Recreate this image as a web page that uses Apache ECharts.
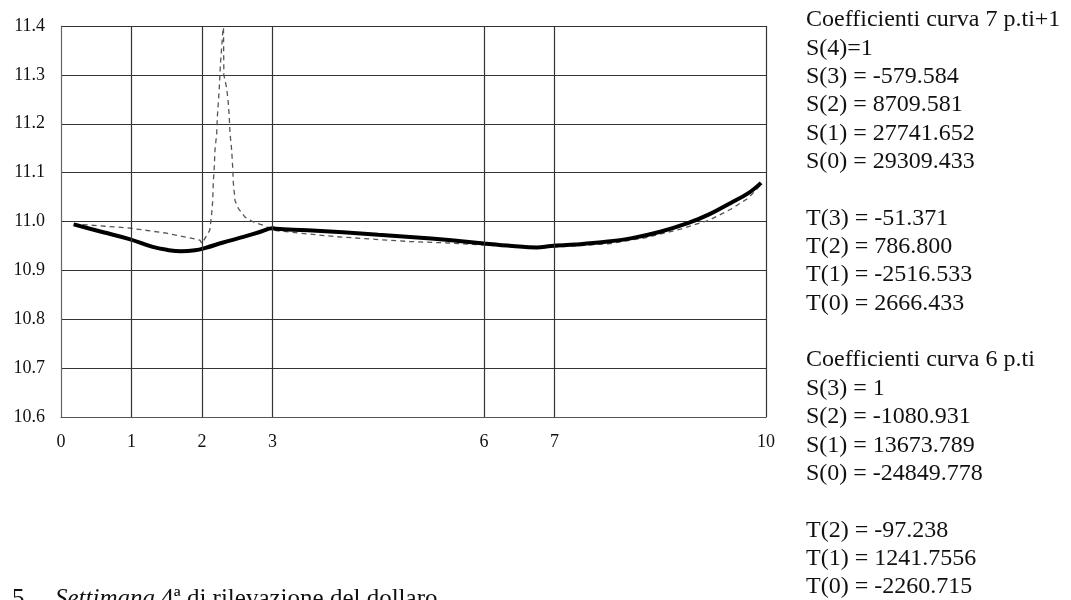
<!DOCTYPE html>
<html>
<head>
<meta charset="utf-8">
<script src="https://cdn.jsdelivr.net/npm/echarts@6/dist/echarts.min.js"></script>
<style>
  html, body { margin: 0; padding: 0; background: #fff; }
  #chart { width: 1071px; height: 600px; }
</style>
</head>
<body>
<div id="chart"></div>
<script>
// ---- data ----
const xLabelValues = [0, 1, 2, 3, 6, 7, 10];
const xGridValues = [1, 2, 3, 6, 7, 10];

const solidCurve = [
  [0.18, 10.994], [0.6, 10.978], [0.97, 10.964], [1.3, 10.948], [1.5, 10.942],
  [1.7, 10.939], [1.9, 10.941], [2.05, 10.946], [2.3, 10.957], [2.6, 10.969],
  [2.85, 10.980], [3.0, 10.986], [3.05, 10.985], [3.5, 10.982], [4.0, 10.978],
  [4.5, 10.973], [5.0, 10.968], [5.5, 10.962], [6.0, 10.955], [6.4, 10.950],
  [6.75, 10.947], [6.95, 10.950], [7.3, 10.953], [7.7, 10.958], [8.1, 10.966],
  [8.5, 10.979], [8.9, 10.997], [9.2, 11.015], [9.5, 11.038], [9.75, 11.058],
  [9.93, 11.079]
];

const dashedCurve = [
  [0.18, 10.995], [0.95, 10.987], [1.5, 10.976], [1.97, 10.962], [2.0, 10.955],
  [2.11, 10.982], [2.138, 11.017], [2.152, 11.043], [2.16, 11.080], [2.174, 11.111],
  [2.184, 11.146], [2.209, 11.181], [2.217, 11.213], [2.231, 11.242], [2.245, 11.273],
  [2.255, 11.305], [2.265, 11.330], [2.279, 11.356], [2.294, 11.387], [2.305, 11.397],
  [2.31, 11.30], [2.35, 11.273], [2.373, 11.242], [2.387, 11.213], [2.397, 11.181],
  [2.421, 11.146], [2.435, 11.111], [2.444, 11.080], [2.468, 11.043], [2.515, 11.027],
  [2.61, 11.009], [2.728, 10.999], [2.87, 10.992], [3.01, 10.982], [3.4, 10.976],
  [3.9, 10.969], [4.4, 10.964], [4.95, 10.959], [5.5, 10.956], [6.0, 10.952],
  [6.5, 10.948], [6.9, 10.947], [7.3, 10.950], [7.8, 10.955], [8.3, 10.967],
  [8.8, 10.985], [9.2, 11.003], [9.5, 11.025], [9.75, 11.048], [9.92, 11.074]
];

const coeffLines = [
  'Coefficienti curva 7 p.ti+1',
  'S(4)=1',
  'S(3) = -579.584',
  'S(2) = 8709.581',
  'S(1) = 27741.652',
  'S(0) = 29309.433',
  '',
  'T(3) = -51.371',
  'T(2) = 786.800',
  'T(1) = -2516.533',
  'T(0) = 2666.433',
  '',
  'Coefficienti curva 6 p.ti',
  'S(3) = 1',
  'S(2) = -1080.931',
  'S(1) = 13673.789',
  'S(0) = -24849.778',
  '',
  'T(2) = -97.238',
  'T(1) = 1241.7556',
  'T(0) = -2260.715'
];

const captionNumber = '5';
const captionItalic = 'Settimana';
const captionRest = ' 4ª di rilevazione del dollaro';

// ---- chart ----
const chart = echarts.init(document.getElementById('chart'), null, { renderer: 'canvas' });
const serif = '"Liberation Serif", "DejaVu Serif", serif';

const graphics = coeffLines.map((t, i) => ({
  type: 'text',
  left: 806,
  top: 18 + i * 28.35 - 10,
  silent: true,
  style: { text: t, font: '24px ' + serif, fill: '#111' }
}));
graphics.push({
  type: 'text', left: 12, top: 587, silent: true,
  style: { text: captionNumber, font: '25px ' + serif, fill: '#111' }
});
graphics.push({
  type: 'text', left: 55, top: 587, silent: true,
  style: {
    text: '{i|' + captionItalic + '}{n|' + captionRest + '}',
    rich: {
      i: { font: 'italic 25px ' + serif, fill: '#111' },
      n: { font: '25px ' + serif, fill: '#111' }
    }
  }
});

const option = {
  animation: false,
  backgroundColor: '#fff',
  grid: { left: 61, right: 305, top: 26, bottom: 183, show: false },
  xAxis: {
    type: 'value', min: 0, max: 10, interval: 1,
    axisLine: { show: true, onZero: false, lineStyle: { color: '#555', width: 1.2 } },
    axisTick: { show: false },
    splitLine: { show: false },
    axisLabel: {
      margin: 16, fontFamily: serif, fontSize: 18, color: '#111',
      formatter: v => (xLabelValues.indexOf(v) >= 0 ? String(v) : '')
    }
  },
  yAxis: {
    type: 'value', min: 10.6, max: 11.4, interval: 0.1,
    axisLine: { show: true, lineStyle: { color: '#666', width: 1.2 } },
    axisTick: { show: false },
    splitLine: { show: true, lineStyle: { color: '#333', width: 1.2 } },
    axisLabel: {
      margin: 16, fontFamily: serif, fontSize: 18, color: '#111',
      formatter: v => v.toFixed(1)
    }
  },
  series: [
    {
      type: 'line', data: dashedCurve, showSymbol: false, smooth: false, z: 2,
      lineStyle: { color: '#555', width: 1.3, type: [5, 4] },
      markLine: {
        silent: true, symbol: ['none', 'none'], animation: false,
        label: { show: false },
        lineStyle: { color: '#333', width: 1.2, type: 'solid' },
        emphasis: { disabled: true },
        data: xGridValues.map(v => ({ xAxis: v }))
      }
    },
    {
      type: 'line', data: solidCurve, showSymbol: false, smooth: 0.4, z: 3,
      lineStyle: { color: '#000', width: 4 }
    }
  ],
  graphic: graphics
};
chart.setOption(option);
</script>
</body>
</html>
